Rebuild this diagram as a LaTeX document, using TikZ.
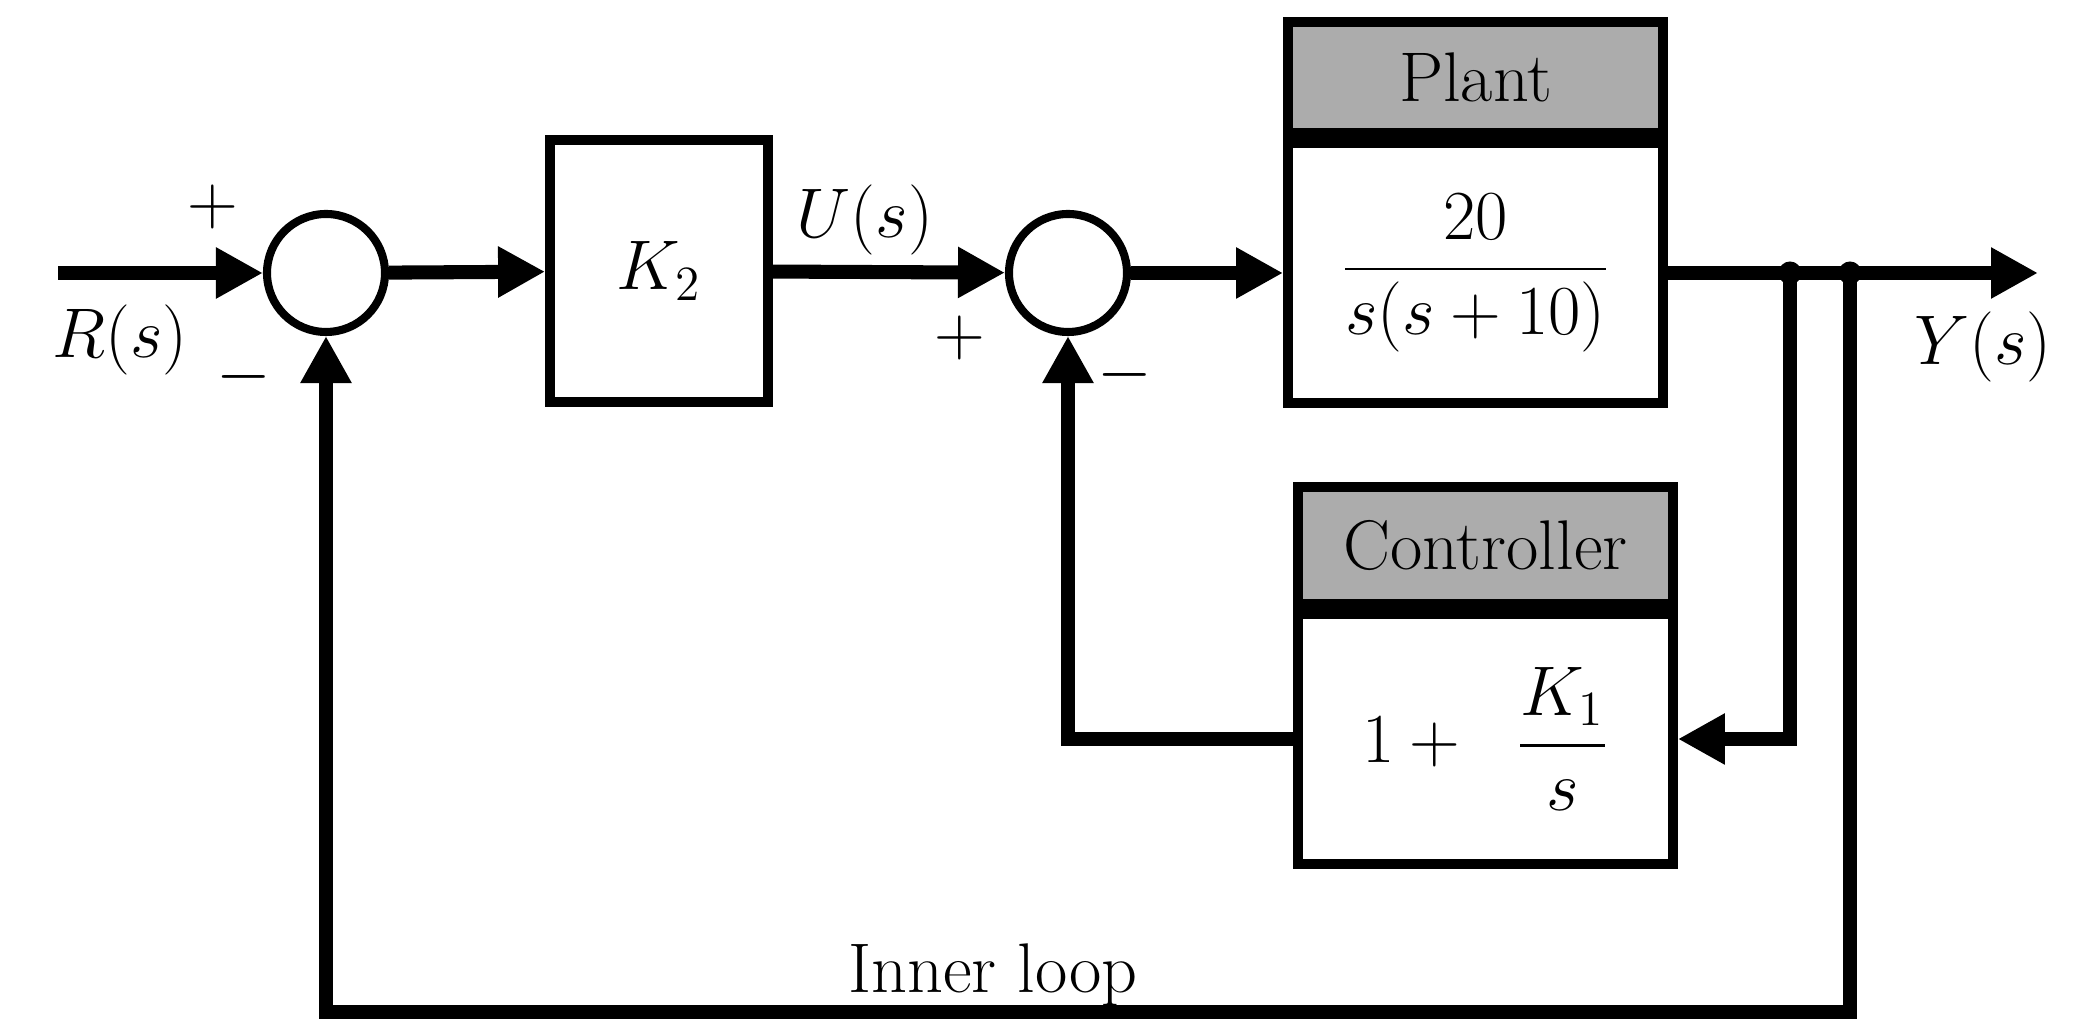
\RequirePackage{fix-cm}
\documentclass[tikz,border=0pt]{standalone}
\usepackage{amsmath,amssymb}
\usepackage{fontspec}
\usepackage{tikz}
\usetikzlibrary{
	positioning,
	arrows.meta
}

\begin{document}
\begin{tikzpicture}[
		font=\fontsize{20}{24}\selectfont,
		sumnode/.style={draw,circle,line width=2.3pt,minimum size=1.18cm,inner sep=0pt},
		blockbox/.style={draw,line width=2.8pt,inner sep=0pt,minimum width=3.75cm},
		headbox/.style={blockbox,fill=gray!65},
		sig/.style={line width=4pt,-{Triangle[length=4.7mm,width=4.8mm]}},
		tapdot/.style={circle,fill,inner sep=0pt,minimum size=2.3mm}
	]
	\useasboundingbox (0,0) rectangle (20.77,10.19);

	\draw
		node [sumnode]                                              (s1)    at (3.26,7.46)   {}
		node [draw,line width=2.8pt,minimum width=2.18cm,
		      minimum height=2.62cm]                                (k2)    at (6.59,7.48)   {$K_2$}
		node [sumnode]                                              (s2)    at (10.68,7.46)  {}
		node [blockbox,minimum height=2.60cm]                       (plant) at (14.755,7.46) {$\dfrac{20}{s(s+10)}$}
		node [headbox,minimum height=1.11cm,above=0pt of plant]    (phead) {Plant}
		node [blockbox,minimum height=2.50cm]                       (ctrl)  at (14.855,2.80) {$1+\hspace{0.4cm}\dfrac{K_1}{s}$}
		node [headbox,minimum height=1.17cm,above=0pt of ctrl]     (chead) {Controller}

		node [tapdot] (tap1) at (17.90,7.46) {}
		node [tapdot] (tap2) at (18.50,7.46) {}

		(s1) edge [sig] (k2)
		(k2) edge [sig] (s2)
		(s2) edge [sig] (plant)
	;

	\coordinate (rin)  at (0.58,7.46);
	\coordinate (yout) at (20.38,7.46);
	\coordinate (low)  at (18.50,0.07);

	\draw [sig] (rin) -- (s1);
	\draw [sig] (plant.east) -- (yout);
	\draw [sig] (tap1.center) |- (ctrl.east);
	\draw [sig] (ctrl.west) -| (s2.south);
	\draw [sig] (tap2.center) -- (low) -| (s1.south);

	% signs and signals
	\node (p1)   at (2.13,8.12)  {$+$};
	\node (m1)   at (2.44,6.42)  {$-$};
	\node (rlab) at (1.20,6.79)  {$R(s)$};
	\node (ulab) at (8.65,7.99)  {$U(s)$};
	\node (p2)   at (9.60,6.81)  {$+$};
	\node (m2)   at (11.25,6.44) {$-$};
	\node (ylab) at (19.83,6.72) {$Y(s)$};
	\node [anchor=base] (inner) at (9.93,0.26) {Inner loop};
\end{tikzpicture}
\end{document}
